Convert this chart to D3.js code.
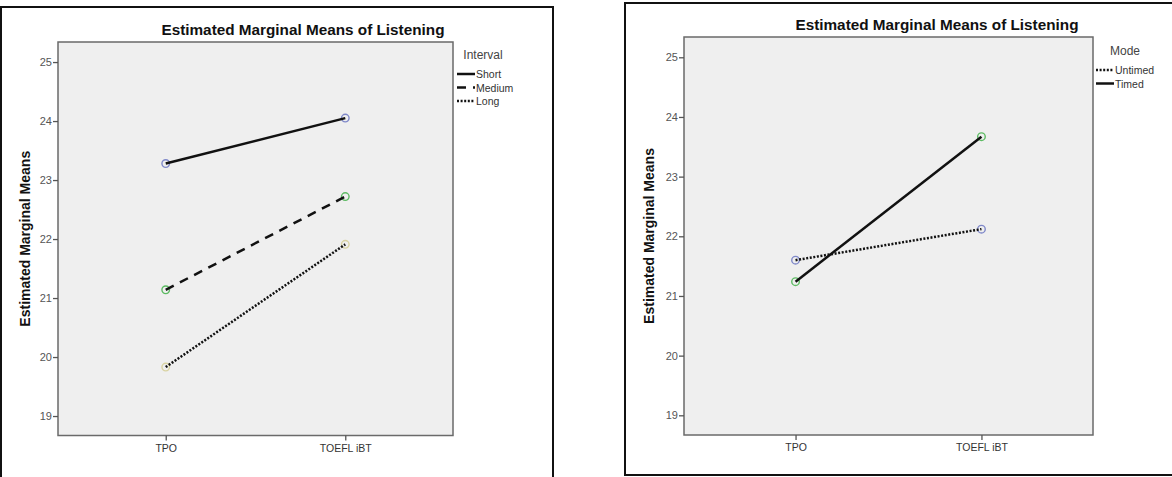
<!DOCTYPE html>
<html>
<head>
<meta charset="utf-8">
<script src="https://cdn.jsdelivr.net/npm/d3@7"></script>
<style>
  html, body { margin: 0; padding: 0; background: #fff; }
  svg { display: block; font-family: "Liberation Sans", Arial, sans-serif; }
</style>
</head>
<body>
<svg id="chart" width="1172" height="477"></svg>
<script>
// ---- Data ----
const categories = ["TPO", "TOEFL iBT"];
const yTicks = [19, 20, 21, 22, 23, 24, 25];
const chartTitle = "Estimated Marginal Means of Listening";
const yAxisTitle = "Estimated Marginal Means";

const intervalTitle = "Interval";
const intervalSeries = ["Short", "Medium", "Long"];
const shortValues = [23.28, 24.05];
const mediumValues = [21.14, 22.72];
const longValues = [19.83, 21.91];

const modeTitle = "Mode";
const modeSeries = ["Untimed", "Timed"];
const untimedValues = [21.60, 22.12];
const timedValues = [21.24, 23.67];

// ---- Styles ----
const dashStyles = { solid: null, dashed: "9,7", dotted: "2,1.6" };
const markerColors = { blue: "#7f88c9", green: "#5dbb63", beige: "#d9d3a2" };

const svg = d3.select("#chart");

function drawPanel(cfg) {
  const g = svg.append("g");
  g.append("rect")
    .attr("x", cfg.box.x).attr("y", cfg.box.y)
    .attr("width", cfg.box.w).attr("height", cfg.box.h)
    .attr("fill", "#fff").attr("stroke", "#111").attr("stroke-width", 2);

  const x = d3.scalePoint().domain(categories).range([cfg.plot.x0, cfg.plot.x1]).padding(0.6);
  const y = d3.scaleLinear().domain([18.67, 25.34]).range([cfg.plot.y1, cfg.plot.y0]);

  g.append("rect")
    .attr("x", cfg.plot.x0).attr("y", cfg.plot.y0)
    .attr("width", cfg.plot.x1 - cfg.plot.x0).attr("height", cfg.plot.y1 - cfg.plot.y0)
    .attr("fill", "#efefef").attr("stroke", "#6a6a6a").attr("stroke-width", 1.5);

  const yAxis = g.append("g").attr("transform", `translate(${cfg.plot.x0},0)`)
    .call(d3.axisLeft(y).tickValues(yTicks).tickSize(5).tickPadding(1).tickFormat(d3.format("d")));
  yAxis.select(".domain").remove();
  yAxis.selectAll("line").attr("stroke", "#555").attr("stroke-width", 1.3);
  yAxis.selectAll("text").attr("font-size", 11).attr("fill", "#555")
    .attr("font-family", "'Liberation Sans', Arial, sans-serif");

  const xAxis = g.append("g").attr("transform", `translate(0,${cfg.plot.y1})`)
    .call(d3.axisBottom(x).tickSize(5).tickPadding(4));
  xAxis.select(".domain").remove();
  xAxis.selectAll("line").attr("stroke", "#555").attr("stroke-width", 1.3);
  xAxis.selectAll("text").attr("font-size", 10.5).attr("fill", "#333")
    .attr("font-family", "'Liberation Sans', Arial, sans-serif");

  g.append("text")
    .attr("x", cfg.titleX).attr("y", cfg.titleY)
    .attr("text-anchor", "middle").attr("font-size", 15.3).attr("font-weight", "bold")
    .attr("fill", "#111").text(chartTitle);

  g.append("text")
    .attr("transform", `translate(${cfg.yTitleX},${(cfg.plot.y0 + cfg.plot.y1) / 2}) rotate(-90)`)
    .attr("text-anchor", "middle").attr("dominant-baseline", "central")
    .attr("font-size", 14).attr("font-weight", "bold").attr("fill", "#111")
    .text(yAxisTitle);

  const line = d3.line().x((d, i) => x(categories[i])).y(d => y(d));

  cfg.series.forEach(s => {
    g.selectAll(null).data(s.values).enter().append("circle")
      .attr("cx", (d, i) => x(categories[i])).attr("cy", d => y(d))
      .attr("r", 3.8).attr("fill", "none")
      .attr("stroke", markerColors[s.color]).attr("stroke-width", 1.4);
  });
  cfg.series.forEach(s => {
    g.append("path").datum(s.values)
      .attr("d", line).attr("fill", "none").attr("stroke", "#111")
      .attr("stroke-width", 2.5)
      .attr("stroke-dasharray", dashStyles[s.dash]);
  });

  g.append("text")
    .attr("x", cfg.legend.titleX).attr("y", cfg.legend.titleY)
    .attr("text-anchor", "middle").attr("font-size", 12).attr("fill", "#444")
    .text(cfg.legend.title);
  cfg.series.forEach((s, i) => {
    const ly = cfg.legend.y0 + i * cfg.legend.step;
    g.append("line")
      .attr("x1", cfg.legend.x0).attr("x2", cfg.legend.x0 + 18)
      .attr("y1", ly).attr("y2", ly)
      .attr("stroke", "#111").attr("stroke-width", 2.5)
      .attr("stroke-dasharray", dashStyles[s.dash]);
    g.append("text")
      .attr("x", cfg.legend.x0 + 19).attr("y", ly)
      .attr("dominant-baseline", "central")
      .attr("font-size", 10.5).attr("fill", "#333")
      .text(s.name);
  });
}

drawPanel({
  box: { x: 1, y: 7, w: 552, h: 480 },
  plot: { x0: 58, x1: 453, y0: 42, y1: 435.5 },
  titleX: 303, titleY: 35, yTitleX: 25,
  series: [
    { name: intervalSeries[0], values: shortValues, dash: "solid", color: "blue" },
    { name: intervalSeries[1], values: mediumValues, dash: "dashed", color: "green" },
    { name: intervalSeries[2], values: longValues, dash: "dotted", color: "beige" }
  ],
  legend: { title: intervalTitle, titleX: 483, titleY: 59, x0: 457, y0: 74, step: 13.5 }
});

drawPanel({
  box: { x: 625, y: 3, w: 560, h: 472 },
  plot: { x0: 684, x1: 1093, y0: 37, y1: 435 },
  titleX: 937, titleY: 30, yTitleX: 649,
  series: [
    { name: modeSeries[0], values: untimedValues, dash: "dotted", color: "blue" },
    { name: modeSeries[1], values: timedValues, dash: "solid", color: "green" }
  ],
  legend: { title: modeTitle, titleX: 1125, titleY: 55, x0: 1096, y0: 70, step: 13.5 }
});
</script>
</body>
</html>
